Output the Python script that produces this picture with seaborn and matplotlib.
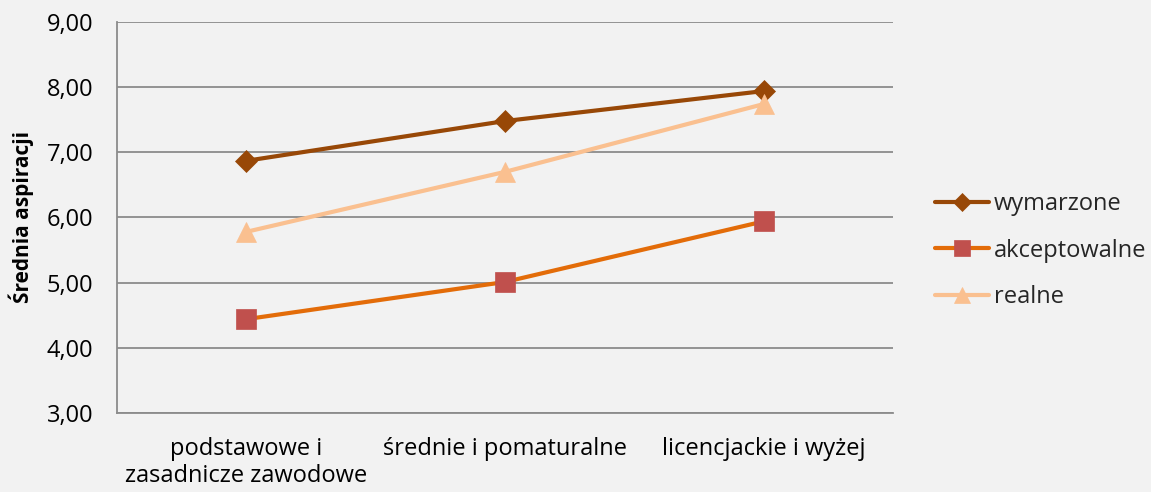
import pandas as pd
import seaborn as sns
import matplotlib.pyplot as plt

categories = ['podstawowe i\nzasadnicze zawodowe', 'średnie i pomaturalne', 'licencjackie i wyżej']
wymarzone = [6.87, 7.48, 7.94]
akceptowalne = [4.44, 5.01, 5.94]
realne = [5.78, 6.70, 7.74]
series_names = ['wymarzone', 'akceptowalne', 'realne']

data = pd.DataFrame({
    'poziom': categories * 3,
    'seria': [s for s in series_names for _ in categories],
    'srednia': wymarzone + akceptowalne + realne,
})

sns.set_style('white')
plt.rcParams['font.family'] = ['Open Sans', 'DejaVu Sans']

line_colors = {'wymarzone': '#984807', 'akceptowalne': '#E36C09', 'realne': '#FAC090'}
marker_faces = {'wymarzone': '#984807', 'akceptowalne': '#C0504D', 'realne': '#FAC090'}
markers = {'wymarzone': 'D', 'akceptowalne': 's', 'realne': '^'}
sizes = {'wymarzone': 11, 'akceptowalne': 14, 'realne': 14}

fig = plt.figure(figsize=(11.51, 4.92), dpi=100, facecolor='#f2f2f2')
ax = fig.add_axes([0.1017, 0.1606, 0.674, 0.7947])
ax.set_facecolor('#f2f2f2')

sns.lineplot(data=data, x='poziom', y='srednia', hue='seria', style='seria',
             palette=line_colors, markers=markers, dashes=False, sort=False,
             linewidth=3, legend=False, ax=ax)

for line, name in zip(ax.lines, series_names):
    line.set_markerfacecolor(marker_faces[name])
    line.set_markeredgecolor(marker_faces[name])
    line.set_markersize(sizes[name])
    line.set_markeredgewidth(0.5)
    line.set_label(name)

ax.set_xlim(-0.5, 2.5)
ax.set_ylim(3, 9)
ax.set_yticks([3, 4, 5, 6, 7, 8, 9])
ax.set_yticklabels([f'{v:.2f}'.replace('.', ',') for v in range(3, 10)])
ax.yaxis.grid(True, color='#8c8c8c', linewidth=1.3)
ax.set_axisbelow(True)
for side in ['top', 'right']:
    ax.spines[side].set_visible(False)
for side in ['left', 'bottom']:
    ax.spines[side].set_color('#8c8c8c')
    ax.spines[side].set_linewidth(1.3)
ax.tick_params(axis='x', length=0, pad=17, labelsize=17, labelcolor='black')
ax.tick_params(axis='y', length=0, pad=17, labelsize=17, labelcolor='black')
ax.set_xlabel('')
ax.set_ylabel('Średnia aspiracji', fontsize=15, fontweight='bold', labelpad=9, color='black')

ax.legend(loc='center left', bbox_to_anchor=(1.027, 0.415), frameon=False,
          fontsize=17, handlelength=2.3, handletextpad=0.2, labelspacing=0.95,
          markerscale=0.85)

plt.savefig('out.png', dpi=100, facecolor=fig.get_facecolor())
